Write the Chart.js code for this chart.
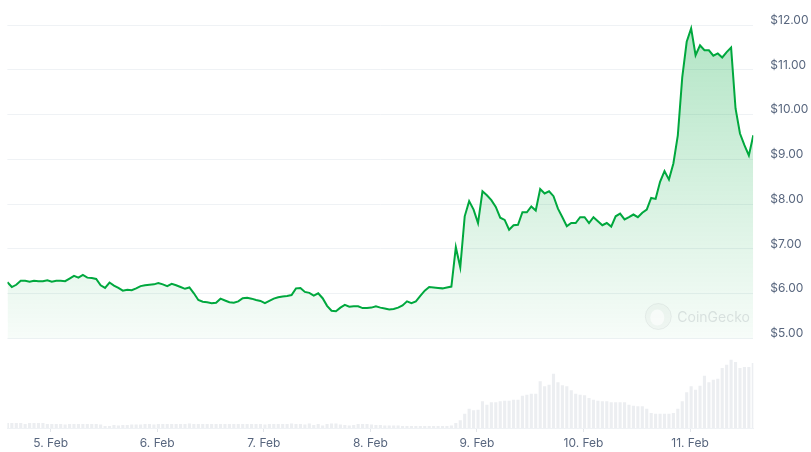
<!DOCTYPE html>
<html>
<head>
<meta charset="utf-8">
<title>7 day price chart</title>
<script src="https://cdn.jsdelivr.net/npm/chart.js@4.4.1/dist/chart.umd.min.js"></script>
<style>
    html, body { margin: 0; padding: 0; background: #fff; }
    #wrap { position: relative; width: 811px; height: 452px; }
</style>
</head>
<body>
<div id="wrap"><canvas id="priceChart"></canvas></div>
<script>
// Hourly samples. Hours are counted from 5 Feb 00:00, first sample is on 4 Feb afternoon
const startHour = -9.75;
const dayLabels = ['5. Feb', '6. Feb', '7. Feb', '8. Feb', '9. Feb', '10. Feb', '11. Feb'];
const priceTicks = [5, 6, 7, 8, 9, 10, 11, 12];

// price in USD
const prices = [
    6.26, 6.15, 6.20, 6.29, 6.29, 6.27, 6.29, 6.28, 6.28, 6.30,
    6.27, 6.29, 6.29, 6.28, 6.34, 6.40, 6.36, 6.42, 6.36, 6.35,
    6.33, 6.19, 6.13, 6.25, 6.18, 6.13, 6.07, 6.09, 6.08, 6.12,
    6.17, 6.19, 6.20, 6.21, 6.24, 6.21, 6.17, 6.22, 6.19, 6.15,
    6.11, 6.14, 6.01, 5.86, 5.82, 5.81, 5.79, 5.80, 5.89, 5.85,
    5.81, 5.80, 5.83, 5.90, 5.91, 5.89, 5.86, 5.84, 5.79, 5.84,
    5.89, 5.92, 5.94, 5.95, 5.97, 6.12, 6.13, 6.04, 6.02, 5.96,
    6.01, 5.90, 5.73, 5.62, 5.61, 5.69, 5.75, 5.71, 5.72, 5.72,
    5.68, 5.68, 5.69, 5.72, 5.69, 5.67, 5.65, 5.66, 5.69, 5.74,
    5.83, 5.79, 5.83, 5.95, 6.07, 6.15, 6.14, 6.13, 6.12, 6.14,
    6.16, 7.04, 6.59, 7.73, 8.07, 7.88, 7.58, 8.29, 8.20, 8.09,
    7.94, 7.70, 7.65, 7.43, 7.53, 7.54, 7.82, 7.82, 7.95, 7.86,
    8.34, 8.24, 8.29, 8.18, 7.90, 7.71, 7.51, 7.58, 7.58, 7.71,
    7.71, 7.58, 7.71, 7.62, 7.53, 7.58, 7.50, 7.73, 7.79, 7.66,
    7.71, 7.77, 7.71, 7.81, 7.88, 8.14, 8.12, 8.50, 8.74, 8.55,
    8.91, 9.54, 10.84, 11.63, 11.93, 11.33, 11.55, 11.44, 11.44, 11.32,
    11.37, 11.28, 11.40, 11.50, 10.14, 9.58, 9.32, 9.09, 9.54
];

// trading volume, millions USD
const volumes = [
    5, 5, 5, 5, 4, 5, 5, 5, 5, 4,
    4, 4, 4, 3.5, 4, 4, 4, 4, 4, 4,
    4, 3.5, 2, 2, 3, 2.5, 3, 3, 3.5, 3.5,
    3.5, 4, 4, 3.5, 4, 4, 4, 4, 4, 4,
    4, 4.5, 4, 4, 4, 4, 4, 4, 4, 4,
    4, 4, 4, 4, 4, 4, 4, 4, 3.5, 4,
    4, 4, 4, 4, 4.5, 4, 4, 3.5, 4.5, 3,
    4, 2.5, 4, 4.5, 4.5, 3.5, 3, 2.5, 3, 4,
    4, 4, 3.5, 3, 3, 2.5, 2.5, 2.5, 2.5, 2,
    2, 2, 2, 2, 2, 2, 2, 2, 2, 2,
    2.5, 5, 7.7, 14.3, 19.3, 17.7, 18.3, 26.7, 23.3, 25.7,
    25.7, 26.7, 27.3, 27.3, 28.3, 28.3, 32.3, 33.3, 34.3, 34.3,
    46.7, 41.7, 43.3, 54.3, 45.7, 42.7, 41.7, 37.7, 34.3, 33.3,
    32.7, 30, 28.3, 27.3, 26.7, 26.7, 25.7, 25.7, 25.7, 25.7,
    23.3, 22.3, 21.7, 21.7, 19.3, 15, 14.3, 14.3, 14.3, 14.3,
    15, 19.3, 26.7, 35.7, 41.7, 38.3, 42.3, 52.3, 45.7, 48.3,
    49.3, 60, 63.3, 68.3, 66, 60, 61, 61, 65
];

const hours = prices.map((_, i) => startHour + i);
const pricePoints = prices.map((p, i) => ({ x: hours[i], y: p }));
const volumePoints = volumes.map((v, i) => ({ x: hours[i], y: v }));

const GREEN = '#00a83e';
const TEXT = '#58667e';
const GRID = '#eff2f5';

Chart.defaults.font.family = 'Inter, "Noto Sans", sans-serif';
Chart.defaults.font.size = 12;
Chart.defaults.color = TEXT;

// faint logo in the lower right corner of the price area
const watermark = {
    id: 'watermark',
    afterDatasetsDraw(chart) {
        const { ctx, chartArea } = chart;
        const yBase = chart.scales.y.getPixelForValue(5);
        const cx = chartArea.right - 95;
        const cy = yBase - 22;
        ctx.save();
        ctx.beginPath();
        ctx.arc(cx, cy, 13, 0, Math.PI * 2);
        ctx.fillStyle = 'rgba(120,130,140,0.05)';
        ctx.fill();
        ctx.strokeStyle = 'rgba(120,130,140,0.10)';
        ctx.lineWidth = 1;
        ctx.stroke();
        ctx.beginPath();
        ctx.ellipse(cx - 1, cy + 1, 7, 8, 0, 0, Math.PI * 2);
        ctx.fillStyle = 'rgba(255,255,255,0.6)';
        ctx.fill();
        ctx.font = '14px Inter, "Noto Sans", sans-serif';
        ctx.fillStyle = 'rgba(120,130,140,0.22)';
        ctx.textBaseline = 'middle';
        ctx.fillText('CoinGecko', cx + 19, cy + 1);
        ctx.restore();
    }
};

const chart = new Chart(document.getElementById('priceChart'), {
    type: 'line',
    data: {
        datasets: [
            {
                label: 'Price',
                data: pricePoints,
                yAxisID: 'y',
                borderColor: GREEN,
                borderWidth: 2,
                pointRadius: 0,
                tension: 0,
                fill: { value: 5 },
                backgroundColor: function(context) {
                    const c = context.chart;
                    if (!c.chartArea) return 'rgba(0,168,62,0.1)';
                    const y = c.scales.y;
                    const g = c.ctx.createLinearGradient(0, y.getPixelForValue(12), 0, y.getPixelForValue(5));
                    g.addColorStop(0, 'rgba(0,168,62,0.30)');
                    g.addColorStop(1, 'rgba(0,168,62,0.03)');
                    return g;
                },
                order: 0
            },
            {
                type: 'bar',
                label: 'Volume',
                data: volumePoints,
                yAxisID: 'yVol',
                backgroundColor: '#eceef1',
                barPercentage: 0.9,
                categoryPercentage: 0.78,
                order: 1
            }
        ]
    },
    options: {
        responsive: true,
        maintainAspectRatio: false,
        animation: false,
        layout: {
            padding: { top: 10, left: 7.4, right: 0, bottom: 0 }
        },
        plugins: {
            legend: { display: false },
            tooltip: { enabled: false }
        },
        scales: {
            x: {
                type: 'linear',
                min: hours[0],
                max: hours[hours.length - 1],
                offset: false,
                grid: {
                    offset: false,
                    drawOnChartArea: false,
                    drawTicks: true,
                    tickLength: 4,
                    color: '#e3e6ea'
                },
                border: { display: true, color: GRID },
                afterBuildTicks: function(scale) {
                    scale.ticks = dayLabels.map((_, k) => ({ value: k * 24 }));
                },
                afterFit: function(scale) {
                    scale.height = 24;
                },
                ticks: {
                    autoSkip: false,
                    maxRotation: 0,
                    padding: 3.8,
                    callback: function(value, index) {
                        return dayLabels[index];
                    }
                }
            },
            y: {
                position: 'right',
                min: 3,
                max: 12.34,
                // the tick marks are invisible, they only push the labels away from the plot
                grid: { color: GRID, drawTicks: true, tickLength: 17, tickColor: 'rgba(0,0,0,0)' },
                border: { display: false },
                afterBuildTicks: function(scale) {
                    scale.ticks = priceTicks.map(v => ({ value: v }));
                },
                afterFit: function(scale) {
                    scale.width = 57.7;
                },
                ticks: {
                    padding: 0,
                    labelOffset: -5,
                    callback: function(value) {
                        return '$' + value.toFixed(2);
                    }
                }
            },
            yVol: {
                display: false,
                min: 0,
                max: 418
            }
        }
    },
    plugins: [watermark]
});
</script>
</body>
</html>
